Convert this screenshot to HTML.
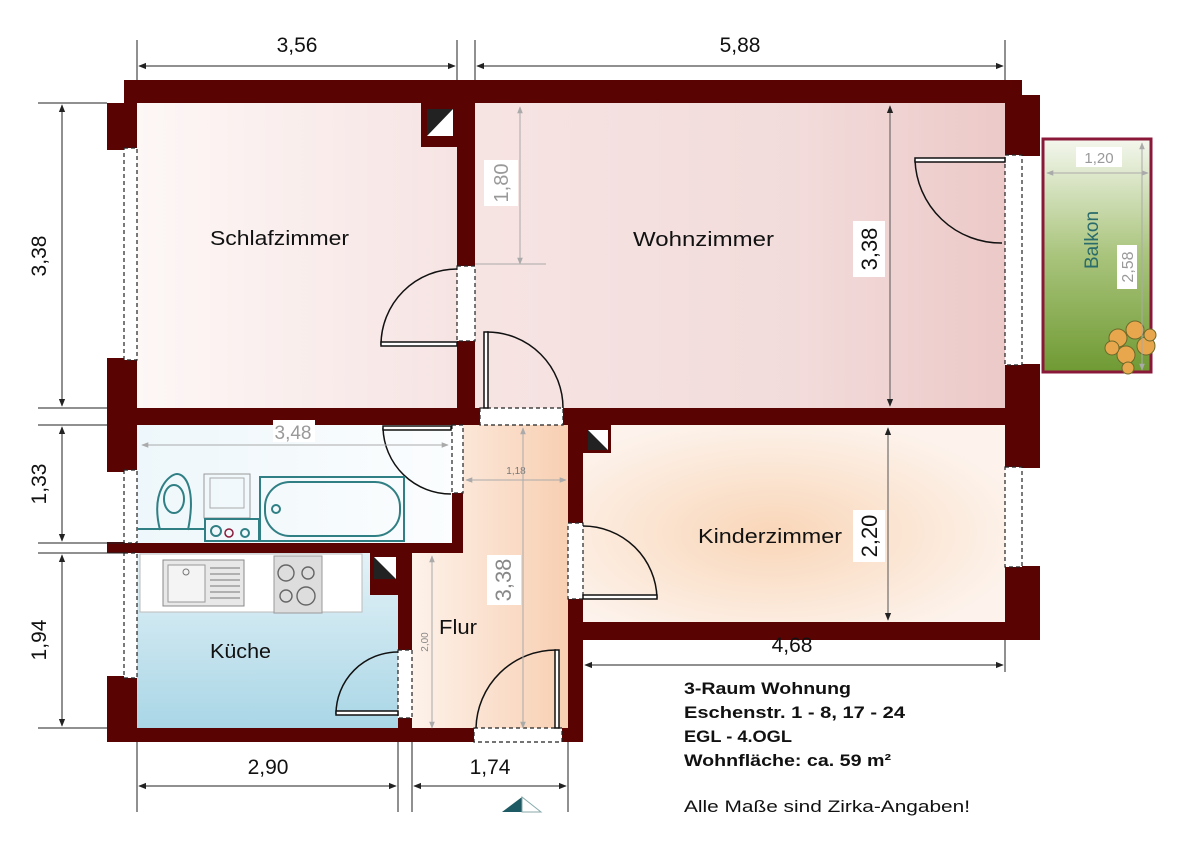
<!DOCTYPE html>
<html><head><meta charset="utf-8"><style>
html,body{margin:0;padding:0;background:#fff;width:1200px;height:851px;overflow:hidden}
svg{display:block}
text{font-family:"Liberation Sans",sans-serif}
</style></head><body>
<svg width="1200" height="851" viewBox="0 0 1200 851" xmlns="http://www.w3.org/2000/svg">
<defs>
<linearGradient id="gS" x1="0" x2="1"><stop offset="0" stop-color="#fdf7f6"/><stop offset="1" stop-color="#f6e4e3"/></linearGradient>
<linearGradient id="gW" x1="0" x2="1"><stop offset="0" stop-color="#f6e4e3"/><stop offset="0.6" stop-color="#f2dcdb"/><stop offset="1" stop-color="#ecc9c8"/></linearGradient>
<radialGradient id="gK" cx="0.45" cy="0.55" r="0.6"><stop offset="0" stop-color="#f9d6b8"/><stop offset="1" stop-color="#fdf3ec"/></radialGradient>
<linearGradient id="gB" x1="0" x2="1"><stop offset="0" stop-color="#eef7fb"/><stop offset="1" stop-color="#fbfdfe"/></linearGradient>
<linearGradient id="gC" x1="0" y1="0" x2="0" y2="1"><stop offset="0" stop-color="#e4f2f7"/><stop offset="1" stop-color="#a9d6e6"/></linearGradient>
<linearGradient id="gF" gradientUnits="userSpaceOnUse" x1="412" x2="568" y1="0" y2="0"><stop offset="0" stop-color="#fdf2ea"/><stop offset="1" stop-color="#f8cfb2"/></linearGradient>
<linearGradient id="gBal" x1="0" y1="0" x2="0" y2="1"><stop offset="0" stop-color="#f4f7ee"/><stop offset="0.5" stop-color="#a9c47c"/><stop offset="1" stop-color="#6f9a33"/></linearGradient>
<marker id="ar" viewBox="0 0 10 10" refX="9" refY="5" markerWidth="8" markerHeight="8" orient="auto-start-reverse"><path d="M0,1 L10,5 L0,9z" fill="#222"/></marker>
<marker id="ag" viewBox="0 0 10 10" refX="9" refY="5" markerWidth="7" markerHeight="7" orient="auto-start-reverse"><path d="M0,1 L10,5 L0,9z" fill="#aaa"/></marker>
</defs>

<rect x="137" y="103" width="320" height="305" fill="url(#gS)"/>
<rect x="475" y="103" width="530" height="305" fill="url(#gW)"/>
<rect x="583" y="425" width="422" height="197" fill="url(#gK)"/>
<rect x="137" y="425" width="315" height="118" fill="url(#gB)"/>
<rect x="137" y="553" width="261" height="175" fill="url(#gC)"/>
<rect x="463" y="425" width="105" height="305" fill="url(#gF)"/>
<rect x="412" y="553" width="156" height="177" fill="url(#gF)"/>

<g fill="#5a0303">
<rect x="124" y="80" width="898" height="23"/>
<rect x="124" y="80" width="13" height="662"/>
<rect x="107" y="103" width="17" height="639"/>
<rect x="1005" y="80" width="17" height="560"/>
<rect x="1022" y="95" width="18" height="545"/>
<rect x="457" y="103" width="18" height="322"/>
<rect x="421" y="103" width="36" height="44"/>
<rect x="124" y="408" width="898" height="17"/>
<rect x="452" y="425" width="11" height="123"/>
<rect x="124" y="543" width="339" height="10"/>
<rect x="398" y="553" width="14" height="189"/>
<rect x="370" y="553" width="28" height="42"/>
<rect x="124" y="728" width="459" height="14"/>
<rect x="568" y="425" width="15" height="317"/>
<rect x="568" y="622" width="454" height="18"/>
<rect x="583" y="425" width="28" height="28"/>
</g>

<g>
<rect x="427" y="109" width="26" height="27" fill="#fff"/><path d="M427,136 L427,109 L453,109z" fill="#222"/>
<rect x="374" y="557" width="22" height="22" fill="#fff"/><path d="M374,557 L396,579 L374,579z" fill="#222"/>
<rect x="588" y="430" width="20" height="20" fill="#fff"/><path d="M588,430 L608,450 L588,450z" fill="#222"/>
</g>

<g fill="#fff">
<rect x="107" y="150" width="17" height="208"/>
<rect x="107" y="472" width="17" height="70"/>
<rect x="107" y="553" width="17" height="123"/>
<rect x="1022" y="156" width="18" height="208"/>
<rect x="1022" y="468" width="18" height="98"/>
</g>
<g fill="#fff" stroke="#222" stroke-width="1.2" stroke-dasharray="4,3">
<rect x="124" y="148" width="13" height="212"/>
<rect x="124" y="470" width="13" height="73"/>
<rect x="124" y="553" width="13" height="125"/>
<rect x="1005" y="155" width="17" height="210"/>
<rect x="1005" y="467" width="17" height="100"/>
</g>

<g fill="#fff" stroke="#222" stroke-width="1.2" stroke-dasharray="4,3">
<rect x="457" y="266" width="18" height="75"/>
<rect x="480" y="408" width="83" height="17"/>
<rect x="452" y="425" width="11" height="68"/>
<rect x="568" y="523" width="15" height="76"/>
<rect x="398" y="650" width="14" height="68"/>
<rect x="474" y="728" width="88" height="14"/>
</g>
<g fill="none" stroke="#111" stroke-width="1.5">
<path d="M457,269 A76,76 0 0 0 381,345"/><rect x="381" y="342" width="76" height="4" fill="#fff"/>
<path d="M487,332 A76,76 0 0 1 563,408"/><rect x="484" y="332" width="4" height="76" fill="#fff"/>
<path d="M383,428 A68,68 0 0 0 451,494"/><rect x="383" y="426" width="68" height="4" fill="#fff"/>
<path d="M583,526 A74,74 0 0 1 657,598"/><rect x="583" y="595" width="74" height="4" fill="#fff"/>
<path d="M398,652 A62,62 0 0 0 336,714"/><rect x="336" y="711" width="62" height="4" fill="#fff"/>
<path d="M476,728 A80,80 0 0 1 556,650"/><rect x="555" y="650" width="4" height="78" fill="#fff"/>
<path d="M915,160 A86,86 0 0 0 1002,243"/><rect x="915" y="158" width="90" height="4" fill="#fff"/>
</g>

<rect x="140" y="554" width="222" height="58" fill="#fff" stroke="#bbb"/>
<rect x="163" y="560" width="81" height="46" fill="#e8e8e8" stroke="#888"/>
<rect x="168" y="565" width="37" height="37" fill="#f4f4f4" stroke="#999"/>
<circle cx="186" cy="572" r="3" fill="none" stroke="#777"/>
<g stroke="#777"><line x1="210" y1="568" x2="240" y2="568"/><line x1="210" y1="574" x2="240" y2="574"/><line x1="210" y1="580" x2="240" y2="580"/><line x1="210" y1="586" x2="240" y2="586"/><line x1="210" y1="592" x2="240" y2="592"/><line x1="210" y1="598" x2="240" y2="598"/></g>
<rect x="274" y="556" width="48" height="57" fill="#ddd" stroke="#999"/>
<g fill="none" stroke="#666" stroke-width="1.4"><circle cx="286" cy="573" r="8"/><circle cx="308" cy="573" r="6"/><circle cx="286" cy="596" r="6"/><circle cx="306" cy="596" r="9"/></g>

<g fill="none" stroke="#2f7f84" stroke-width="2">
<rect x="204" y="474" width="46" height="44" stroke-width="1" stroke="#999"/>
<rect x="210" y="478" width="34" height="30" stroke-width="1" stroke="#aaa"/>
<path d="M160,530 C150,490 170,474 177,474 C186,474 196,490 188,530"/>
<ellipse cx="174" cy="499" rx="10" ry="14"/>
<rect x="260" y="477" width="144" height="64"/>
<rect x="265" y="482" width="135" height="54" rx="25"/>
<rect x="205" y="519" width="54" height="22"/>
<line x1="137" y1="529" x2="205" y2="529"/>
<circle cx="216" cy="531" r="5"/><circle cx="245" cy="533" r="4"/>
<circle cx="276" cy="509" r="4"/>
</g>
<circle cx="229" cy="533" r="4" fill="none" stroke="#8a1a3a" stroke-width="1.5"/>

<rect x="1043" y="139" width="108" height="233" fill="url(#gBal)" stroke="#8a1838" stroke-width="3"/>
<g fill="#e9a74d" stroke="#6b6a2a" stroke-width="1">
<circle cx="1118" cy="338" r="9"/><circle cx="1135" cy="330" r="9"/><circle cx="1146" cy="346" r="9"/><circle cx="1126" cy="355" r="9"/><circle cx="1112" cy="348" r="7"/><circle cx="1150" cy="335" r="6"/><circle cx="1128" cy="368" r="6"/>
</g>
<line x1="1047" y1="173" x2="1148" y2="173" stroke="#aaa" marker-start="url(#ag)" marker-end="url(#ag)"/>
<line x1="1142" y1="143" x2="1142" y2="370" stroke="#aaa" marker-start="url(#ag)" marker-end="url(#ag)"/>
<rect x="1076" y="147" width="46" height="20" fill="#fff"/>
<text x="1099" y="163" font-size="15" fill="#999" text-anchor="middle">1,20</text>
<rect x="1117" y="245" width="20" height="44" fill="#fff"/>
<text transform="translate(1133,267) rotate(-90)" font-size="16" fill="#999" text-anchor="middle">2,58</text>
<text transform="translate(1098,240) rotate(-90)" font-size="19" fill="#2a6b6b" text-anchor="middle">Balkon</text>

<line x1="520" y1="107" x2="520" y2="264" stroke="#aaa" marker-start="url(#ag)" marker-end="url(#ag)"/>
<line x1="475" y1="264" x2="546" y2="264" stroke="#aaa"/>
<rect x="484" y="160" width="34" height="46" fill="#fff"/>
<text transform="translate(508,183) rotate(-90)" font-size="20" fill="#999" text-anchor="middle">1,80</text>
<line x1="142" y1="445" x2="448" y2="445" stroke="#aaa" marker-start="url(#ag)" marker-end="url(#ag)"/>
<rect x="273" y="420" width="42" height="22" fill="#fff"/>
<text x="293" y="439" font-size="19" fill="#999" text-anchor="middle">3,48</text>
<line x1="466" y1="480" x2="566" y2="480" stroke="#aaa" marker-start="url(#ag)" marker-end="url(#ag)"/>
<text x="516" y="474" font-size="10" fill="#777" text-anchor="middle">1,18</text>
<line x1="523" y1="428" x2="523" y2="728" stroke="#aaa" marker-start="url(#ag)" marker-end="url(#ag)"/>
<rect x="487" y="555" width="34" height="50" fill="#fff"/>
<text transform="translate(511,580) rotate(-90)" font-size="22" fill="#888" text-anchor="middle">3,38</text>
<line x1="432" y1="556" x2="432" y2="728" stroke="#aaa" marker-start="url(#ag)" marker-end="url(#ag)"/>
<text transform="translate(428,642) rotate(-90)" font-size="10" fill="#888" text-anchor="middle">2,00</text>
<line x1="890" y1="106" x2="890" y2="406" stroke="#555" marker-start="url(#ar)" marker-end="url(#ar)"/>
<rect x="853" y="221" width="32" height="56" fill="#fff"/>
<text transform="translate(877,249) rotate(-90)" font-size="22" fill="#111" text-anchor="middle">3,38</text>
<line x1="888" y1="428" x2="888" y2="620" stroke="#555" marker-start="url(#ar)" marker-end="url(#ar)"/>
<rect x="853" y="510" width="32" height="52" fill="#fff"/>
<text transform="translate(877,536) rotate(-90)" font-size="22" fill="#111" text-anchor="middle">2,20</text>

<g font-size="20" fill="#111">
<text x="210" y="245" textLength="139" lengthAdjust="spacingAndGlyphs">Schlafzimmer</text>
<text x="633" y="246" textLength="141" lengthAdjust="spacingAndGlyphs">Wohnzimmer</text>
<text x="698" y="543" textLength="144" lengthAdjust="spacingAndGlyphs">Kinderzimmer</text>
<text x="210" y="658" textLength="61" lengthAdjust="spacingAndGlyphs">Küche</text>
<text x="439" y="634" textLength="38" lengthAdjust="spacingAndGlyphs">Flur</text>
</g>

<g stroke="#222" stroke-width="1">
<line x1="137" y1="40" x2="137" y2="80"/><line x1="457" y1="40" x2="457" y2="80"/><line x1="475" y1="40" x2="475" y2="80"/><line x1="1005" y1="40" x2="1005" y2="80"/>
<line x1="139" y1="66" x2="455" y2="66" marker-start="url(#ar)" marker-end="url(#ar)"/>
<line x1="477" y1="66" x2="1003" y2="66" marker-start="url(#ar)" marker-end="url(#ar)"/>
<line x1="38" y1="103" x2="107" y2="103"/><line x1="38" y1="408" x2="107" y2="408"/><line x1="38" y1="425" x2="107" y2="425"/><line x1="38" y1="543" x2="124" y2="543"/><line x1="38" y1="553" x2="124" y2="553"/><line x1="38" y1="728" x2="107" y2="728"/>
<line x1="62" y1="105" x2="62" y2="406" marker-start="url(#ar)" marker-end="url(#ar)"/>
<line x1="62" y1="427" x2="62" y2="541" marker-start="url(#ar)" marker-end="url(#ar)"/>
<line x1="62" y1="555" x2="62" y2="726" marker-start="url(#ar)" marker-end="url(#ar)"/>
<line x1="137" y1="742" x2="137" y2="812"/><line x1="398" y1="742" x2="398" y2="812"/><line x1="412" y1="742" x2="412" y2="812"/><line x1="568" y1="742" x2="568" y2="812"/>
<line x1="139" y1="786" x2="396" y2="786" marker-start="url(#ar)" marker-end="url(#ar)"/>
<line x1="414" y1="786" x2="566" y2="786" marker-start="url(#ar)" marker-end="url(#ar)"/>
<line x1="1005" y1="640" x2="1005" y2="672"/>
<line x1="585" y1="665" x2="1003" y2="665" marker-start="url(#ar)" marker-end="url(#ar)"/>
</g>
<g font-size="21" fill="#111" text-anchor="middle">
<text x="297" y="52">3,56</text>
<text x="740" y="52">5,88</text>
<text x="268" y="774">2,90</text>
<text x="490" y="774">1,74</text>
<text x="792" y="652">4,68</text>
<text transform="translate(46,256) rotate(-90)">3,38</text>
<text transform="translate(46,484) rotate(-90)">1,33</text>
<text transform="translate(46,640) rotate(-90)">1,94</text>
</g>

<path d="M502,812 L522,797 L522,812z" fill="#1d5a63"/><path d="M522,797 L541,812 L522,812z" fill="#fff" stroke="#8aa"/>

<g font-size="17" font-weight="bold" fill="#111">
<text x="684" y="694" textLength="167" lengthAdjust="spacingAndGlyphs">3-Raum Wohnung</text>
<text x="684" y="718" textLength="221" lengthAdjust="spacingAndGlyphs">Eschenstr. 1 - 8, 17 - 24</text>
<text x="684" y="742" textLength="108" lengthAdjust="spacingAndGlyphs">EGL - 4.OGL</text>
<text x="684" y="766" textLength="207" lengthAdjust="spacingAndGlyphs">Wohnfläche: ca. 59 m²</text>
</g>
<text x="684" y="812" font-size="17" fill="#111" textLength="286" lengthAdjust="spacingAndGlyphs">Alle Maße sind Zirka-Angaben!</text>
</svg>
</body></html>
